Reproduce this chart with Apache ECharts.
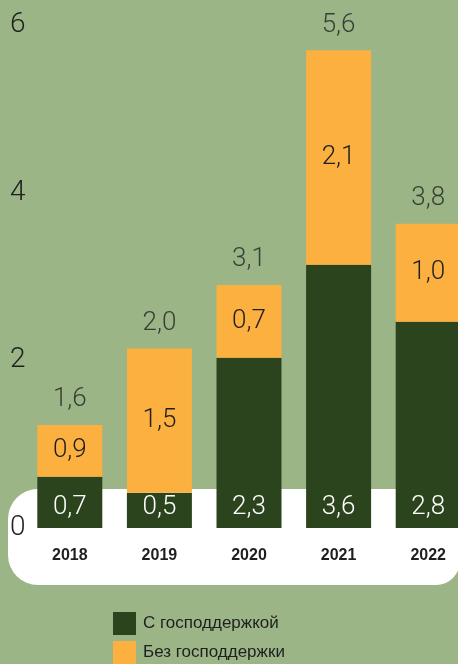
<!DOCTYPE html>
<html>
<head>
<meta charset="utf-8">
<script src="https://cdn.jsdelivr.net/npm/echarts@6/dist/echarts.min.js"></script>
<style>
  html, body { margin: 0; padding: 0; background: #9bb587; }
  #chart { width: 458px; height: 664px; }
</style>
</head>
<body>
<div id="chart"></div>
<script>
// годы
const years = ['2018', '2019', '2020', '2021', '2022']
// высоты сегментов (по оси 0–6)
const withSupport = [0.61, 0.42, 2.03, 3.14, 2.46]
const withoutSupport = [0.62, 1.72, 0.87, 2.56, 1.17]
// подписи, напечатанные на графике
const withSupportLabels = ['0,7', '0,5', '2,3', '3,6', '2,8']
const withoutSupportLabels = ['0,9', '1,5', '0,7', '2,1', '1,0']
const totalLabels = ['1,6', '2,0', '3,1', '5,6', '3,8']
const yTicks = [0, 2, 4, 6]

const darkGreen = '#2c441e'
const orange = '#fbb040'
const textColor = '#1f1f1f'
const numFont = 'Roboto'
const narrowFont = '"Liberation Sans", Arial, sans-serif'

const totals = withSupport.map((v, i) => +(v + withoutSupport[i]).toFixed(2))

const chart = echarts.init(document.getElementById('chart'), null, { renderer: 'canvas' })

chart.setOption({
  backgroundColor: '#9bb587',
  animation: false,
  // белая плашка под подписями лет
  graphic: [{
    type: 'rect',
    z: -10,
    shape: { x: 8, y: 489, width: 452, height: 96, r: [30, 0, 24, 30] },
    style: { fill: '#ffffff' }
  }],
  legend: {
    orient: 'vertical',
    left: 113,
    top: 612,
    padding: 0,
    itemWidth: 23,
    itemHeight: 23,
    itemGap: 6,
    icon: 'rect',
    data: ['С господдержкой', 'Без господдержки'],
    textStyle: { color: textColor, fontSize: 17, fontFamily: narrowFont, padding: [0, 0, 0, 2] }
  },
  grid: { left: 25, width: 448, top: 25, bottom: 136, containLabel: false, outerBoundsMode: 'none' },
  xAxis: {
    type: 'category',
    data: years,
    axisLine: { show: false },
    axisTick: { show: false },
    axisLabel: { color: textColor, fontSize: 16, fontFamily: narrowFont, fontWeight: 'bold', margin: 20 }
  },
  yAxis: {
    type: 'value',
    min: yTicks[0],
    max: yTicks[yTicks.length - 1],
    interval: 2,
    splitLine: { show: false },
    axisLine: { show: false },
    axisTick: { show: false },
    axisLabel: { color: textColor, fontSize: 28, fontFamily: numFont, fontWeight: 300, align: 'left', margin: 15 }
  },
  series: [
    {
      name: 'С господдержкой',
      type: 'bar',
      stack: 'all',
      barWidth: 65,
      data: withSupport,
      itemStyle: { color: darkGreen },
      label: {
        show: true,
        position: 'insideBottom',
        distance: 8,
        color: '#ffffff',
        fontSize: 26,
        fontFamily: numFont,
        fontWeight: 300,
        formatter: p => withSupportLabels[p.dataIndex]
      }
    },
    {
      name: 'Без господдержки',
      type: 'bar',
      stack: 'all',
      barWidth: 65,
      data: withoutSupport,
      itemStyle: { color: orange },
      label: {
        show: true,
        position: 'inside',
        color: textColor,
        fontSize: 26,
        fontFamily: numFont,
        fontWeight: 300,
        formatter: p => withoutSupportLabels[p.dataIndex]
      }
    },
    {
      // итоговые подписи над столбцами
      type: 'scatter',
      symbolSize: 0,
      data: totals,
      label: {
        show: true,
        position: 'top',
        distance: 12,
        color: textColor,
        fontSize: 26,
        fontFamily: numFont,
        fontWeight: 300,
        formatter: p => totalLabels[p.dataIndex]
      }
    }
  ]
})
</script>
</body>
</html>
